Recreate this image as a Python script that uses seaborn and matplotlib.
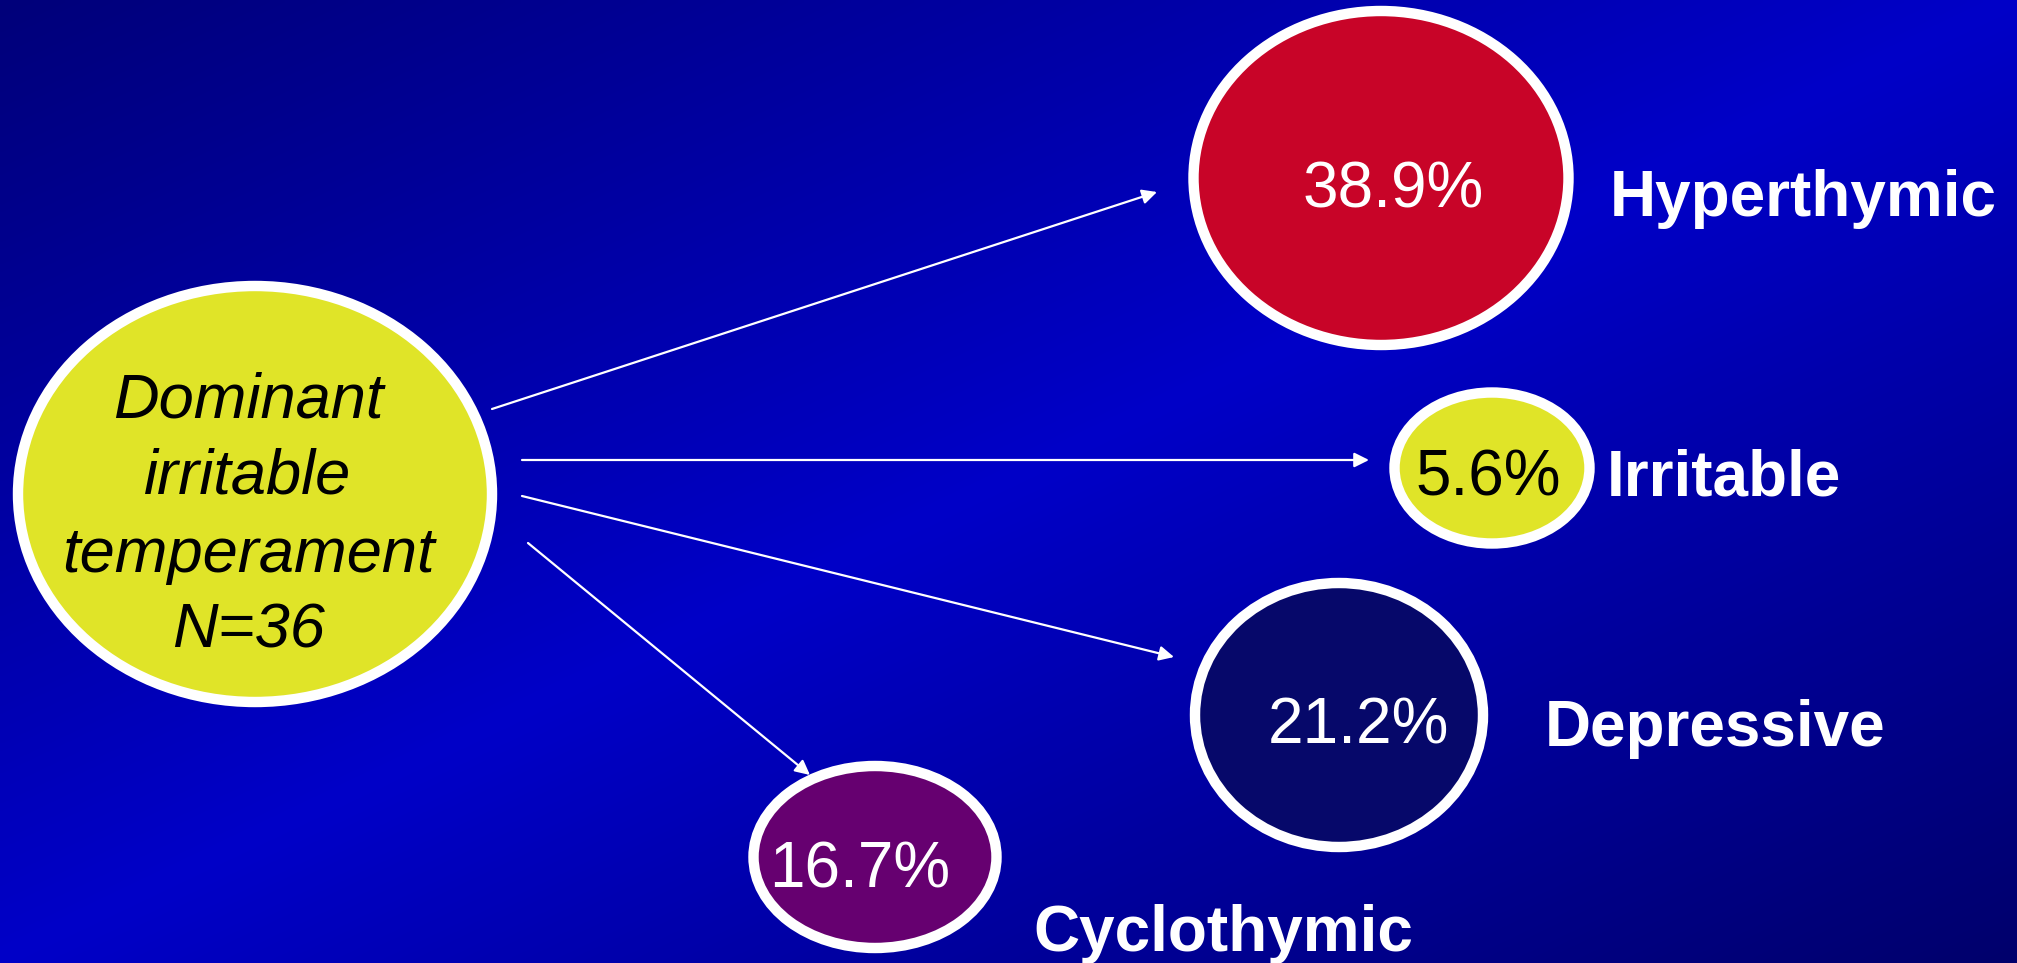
import numpy as np
import matplotlib
matplotlib.use("Agg")
import matplotlib.pyplot as plt
from matplotlib.patches import Ellipse
from matplotlib.colors import LinearSegmentedColormap
import seaborn as sns

# ---- data ----
source_lines = ["Dominant", "irritable", "temperament", "N=36"]
categories = ["Hyperthymic", "Irritable", "Depressive", "Cyclothymic"]
percents = [38.9, 5.6, 21.2, 16.7]
fill_colors = ["#C80428", "#E0E428", "#06086A", "#660070"]
pct_text_colors = ["white", "black", "white", "white"]

# ---- layout (pixel space of a 2017x963 canvas) ----
W, H = 2017, 963
src_center = (255, 494)
src_size = (474, 416)
src_baselines = [417, 494, 572, 648]

node_centers = [(1381, 178), (1492, 468), (1339, 715), (875, 857)]
node_sizes = [(375, 334), (195, 151), (288, 264), (243, 182)]
pct_pos = [(1393, 207), (1488, 495), (1358, 743), (860, 887)]
label_pos = [(1610, 216), (1607, 496), (1545, 746), (1033, 951)]
arrow_start = [(492, 409), (522, 460), (522, 496), (528, 543)]
arrow_end = [(1157, 192), (1369, 460), (1174, 657), (810, 775)]

sns.set_theme(style="white")
plt.rcParams["font.family"] = ["Liberation Sans", "DejaVu Sans"]

fig = plt.figure(figsize=(W / 100, H / 100), dpi=100)
ax = fig.add_axes([0, 0, 1, 1])
ax.set_xlim(0, W)
ax.set_ylim(H, 0)
ax.axis("off")

# background diagonal gradient
cmap = LinearSegmentedColormap.from_list(
    "bg", [(0.0, "#00007A"), (0.5, "#0000C8"), (1.0, "#00006C")])
xx, yy = np.meshgrid(np.linspace(0, 1, 400), np.linspace(0, 1, 200))
t = (xx * 1.0 + yy * 1.0) / 2.0
ax.imshow(t, cmap=cmap, vmin=0, vmax=1, extent=[0, W, H, 0],
          aspect="auto", zorder=0, interpolation="bilinear")

# arrows
for (x0, y0), (x1, y1) in zip(arrow_start, arrow_end):
    ax.annotate("", xy=(x1, y1), xytext=(x0, y0),
                arrowprops=dict(arrowstyle="-|>", color="white", lw=1.6,
                                mutation_scale=22, shrinkA=0, shrinkB=0),
                zorder=2)

# source ellipse
ax.add_patch(Ellipse(src_center, src_size[0], src_size[1], facecolor="#E0E428",
                     edgecolor="white", lw=7.5, zorder=3))
for line, yb in zip(source_lines, src_baselines):
    ax.text(src_center[0] - 7, yb, line, ha="center", va="baseline",
            fontsize=45.5, style="italic", color="black", zorder=4)

# target ellipses
for i, cat in enumerate(categories):
    (cx, cy), (w, h) = node_centers[i], node_sizes[i]
    ax.add_patch(Ellipse((cx, cy), w, h, facecolor=fill_colors[i],
                         edgecolor="white", lw=7.5, zorder=3))
    px, py = pct_pos[i]
    ax.text(px, py, f"{percents[i]:.1f}%", ha="center", va="baseline",
            fontsize=46, color=pct_text_colors[i], zorder=4)
    lx, ly = label_pos[i]
    ax.text(lx, ly, cat, ha="left", va="baseline", fontsize=46,
            fontweight="bold", color="white", zorder=4)

fig.savefig("out.png", dpi=100)
